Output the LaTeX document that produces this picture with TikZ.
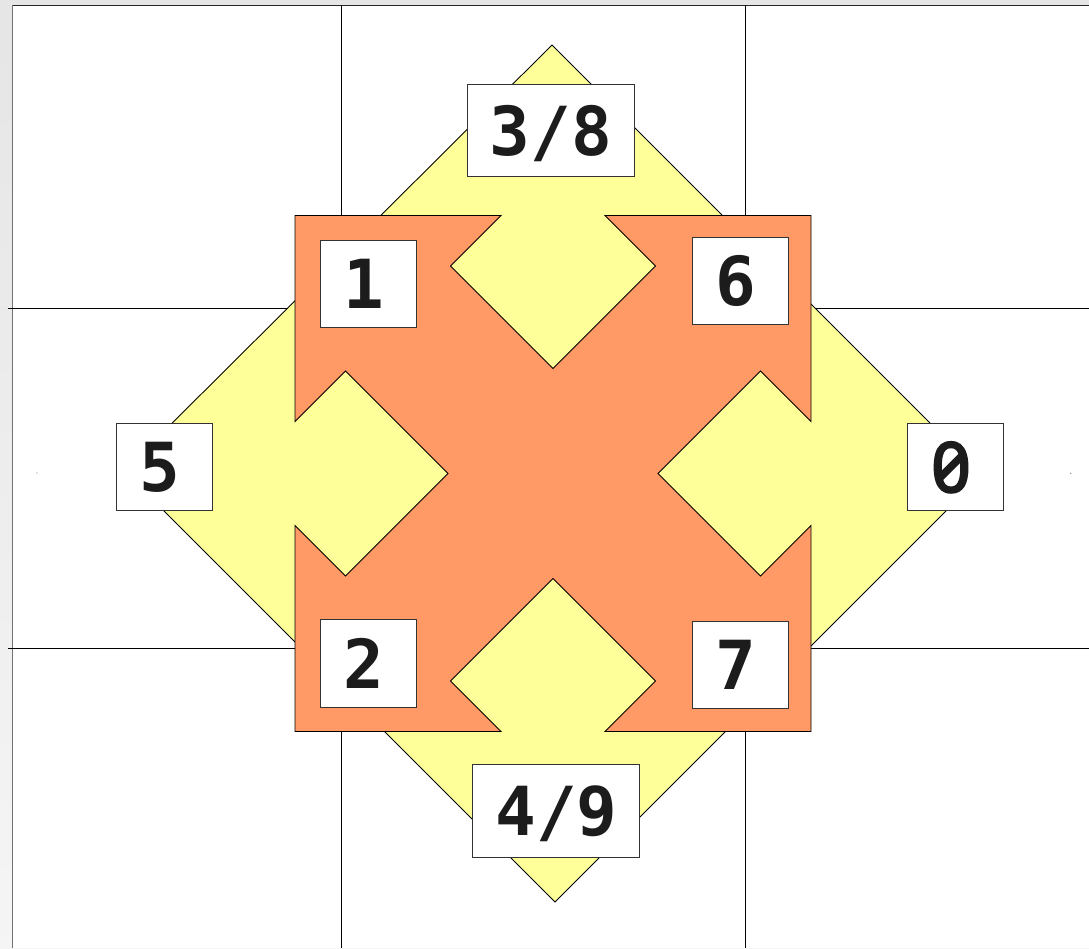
\documentclass[tikz,border=0pt]{standalone}
\usepackage{fontspec}
\setmonofont{DejaVu Sans Mono}
\newfontfamily\slashzero[RawFeature=+zero, FakeBold=3]{Noto Sans}
\definecolor{diamondyellow}{HTML}{FFFF99}
\definecolor{crossorange}{HTML}{FF9966}
\definecolor{digitgray}{HTML}{1C1C1C}
\tikzset{
	boxbase/.style = {draw = black!80, fill = white, line width = 0.5pt, inner sep = 0pt, text = digitgray, text depth = 0pt, font = \fontsize{38.5}{40}\selectfont\ttfamily\bfseries},
	digitbox/.style = {boxbase, minimum width = 1.93cm, minimum height = 1.75cm, execute at end node = \hspace*{0.17cm}},
	widebox/.style = {boxbase, minimum width = 3.34cm, minimum height = 1.85cm},
}
\begin{document}
\begin{tikzpicture}[x = 0.02cm, y = -0.02cm]
	\useasboundingbox (0,0) rectangle (1089,948);
	% page
	\shade [top color = black!10, bottom color = black!4] (0,0) rectangle (1089,948);
	\fill [white] (12.7,5) rectangle (1089,948);
	\draw [black!55, line width = 0.8pt] (12.7,948) -- (12.7,5);
	\draw [black!85, line width = 0.5pt] (12.7,5) -- (1089,5);
	% grid
	\draw [line width = 0.5pt] (341.5,5) -- (341.5,948);
	\draw [line width = 0.5pt] (745.5,5) -- (745.5,948);
	\draw [line width = 0.5pt] (7.5,308.3) -- (1089,308.3);
	\draw [line width = 0.5pt] (7.5,648.7) -- (1089,648.7);
	\fill [black!50] (37,473) circle (0.7);
	\fill [black!50] (1070.7,473.3) circle (0.7);
	% diamond
	\draw [fill = diamondyellow, line width = 0.5pt] (552,45) -- (982,475) -- (555,902) -- (124,471) -- cycle;
	% cross
	\draw [fill = crossorange, line width = 0.5pt, shift = {(553,473.5)}]
		(-258,-258) -- (-52,-258) -- (-102.5,-207.5) -- (0,-105) -- (102.5,-207.5) -- (52,-258)
		-- (258,-258) -- (258,-52) -- (207.5,-102.5) -- (105,0) -- (207.5,102.5) -- (258,52)
		-- (258,258) -- (52,258) -- (102.5,207.5) -- (0,105) -- (-102.5,207.5) -- (-52,258)
		-- (-258,258) -- (-258,52) -- (-207.5,102.5) -- (-105,0) -- (-207.5,-102.5) -- (-258,-52) -- cycle;
	% labels
	\node [widebox] (top) at (550.7,130.3) {3/8};
	\node [digitbox] (one) at (368.4,284) {1};
	\node [digitbox] (six) at (740.3,280.7) {6};
	\node [digitbox] (five) at (164.3,467) {5};
	\node [digitbox, font = \fontsize{39.3}{40}\selectfont\slashzero] (zero) at (955.3,467) {0};
	\node [digitbox] (two) at (368.4,663.3) {2};
	\node [digitbox] (seven) at (740.5,665) {7};
	\node [widebox] (bottom) at (556.4,810.7) {4/9};
\end{tikzpicture}
\end{document}
